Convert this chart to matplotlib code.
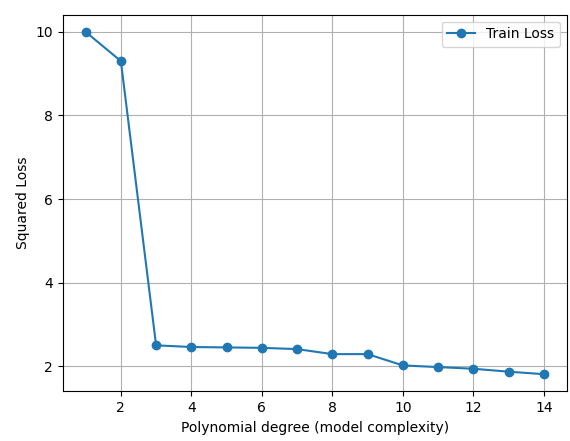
import matplotlib
matplotlib.use('Agg')
import matplotlib.pyplot as plt

degrees = list(range(1, 15))
train_loss = [10.0, 9.30, 2.50, 2.46, 2.45, 2.44, 2.41, 2.29, 2.29, 2.02, 1.98, 1.94, 1.87, 1.81]


def main():
    fig = plt.figure(figsize=(5.7, 4.41), dpi=100)
    ax = fig.add_axes([62.7 / 570, 49.7 / 441, 504 / 570, 376.6 / 441])
    ax.plot(degrees, train_loss, marker='o', label='Train Loss')
    ax.set_xlabel('Polynomial degree (model complexity)')
    ax.set_ylabel('Squared Loss')
    ax.grid(True)
    ax.legend()
    fig.savefig('out.png', dpi=100)


if __name__ == '__main__':
    main()
